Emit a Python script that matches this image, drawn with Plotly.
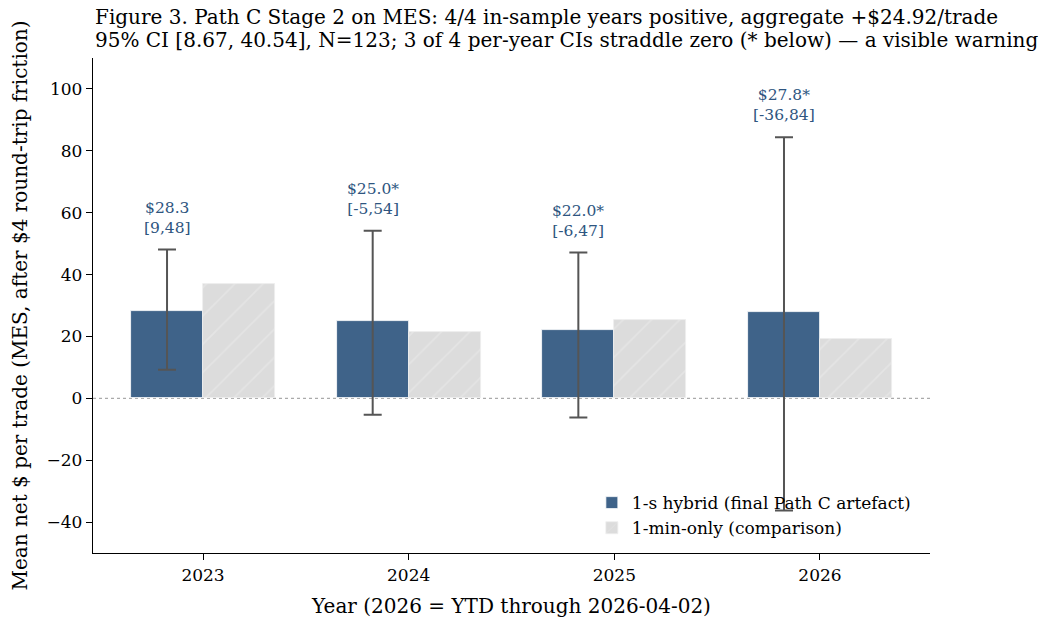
import plotly.graph_objects as go

years = ["2023", "2024", "2025", "2026"]
hybrid_mean = [28.3, 25.0, 22.0, 27.8]
hybrid_ci_lo = [9.2, -5.3, -6.2, -36.3]
hybrid_ci_hi = [48.1, 54.2, 47.1, 84.4]
min_only_mean = [36.8, 21.4, 25.3, 19.2]
title_lines = [
    "Figure 3. Path C Stage 2 on MES: 4/4 in-sample years positive, aggregate +$24.92/trade",
    "95% CI [8.67, 40.54], N=123; 3 of 4 per-year CIs straddle zero (* below) — a visible warning",
]

FONT = "DejaVu Serif"
BLUE = "#3f6389"
LABEL = "#2e5580"

xpos = list(range(len(years)))
w = 0.35
x_h = [x - w / 2 for x in xpos]
x_m = [x + w / 2 for x in xpos]

fig = go.Figure()
fig.add_trace(go.Bar(
    x=x_h, y=hybrid_mean, width=w, name="1-s hybrid (final Path C artefact)",
    marker=dict(color=BLUE, line=dict(color="white", width=0.8)),
    error_y=dict(type="data", symmetric=False,
                 array=[h - m for h, m in zip(hybrid_ci_hi, hybrid_mean)],
                 arrayminus=[m - l for m, l in zip(hybrid_mean, hybrid_ci_lo)],
                 color="#555555", thickness=2, width=9),
))
fig.add_trace(go.Bar(
    x=x_m, y=min_only_mean, width=w, name="1-min-only (comparison)",
    marker=dict(color="#dcdcdc", line=dict(color="#eeeeee", width=0.8),
                pattern=dict(shape="/", fgcolor="#ececec", bgcolor="#dcdcdc",
                             size=20, solidity=0.08)),
))

for x, m, lo, hi in zip(x_h, hybrid_mean, hybrid_ci_lo, hybrid_ci_hi):
    star = "*" if lo < 0 else ""
    fig.add_annotation(
        x=x, y=hi, xref="x", yref="y",
        text=f"${m:.1f}{star}<br>[{lo:.0f},{hi:.0f}]",
        showarrow=False, yanchor="bottom", yshift=11,
        font=dict(family=FONT, size=15.5, color=LABEL),
    )

for line, yp in zip(title_lines, [1.0828, 1.0364]):
    fig.add_annotation(
        x=0, y=yp, xref="paper", yref="paper", text=line, showarrow=False,
        xanchor="left", yanchor="middle", height=22, valign="middle",
        font=dict(family=FONT, size=20, color="black"),
    )

fig.add_shape(type="line", xref="paper", yref="y", x0=0, x1=1, y0=0, y1=0,
              line=dict(color="#aaaaaa", width=1.2, dash="dot"), layer="below")

fig.update_layout(
    width=1050, height=617,
    margin=dict(l=85, r=128, t=50, b=72),
    paper_bgcolor="white", plot_bgcolor="white",
    barmode="overlay", bargap=0,
    font=dict(family=FONT, size=17, color="black"),
    showlegend=True,
    legend=dict(x=0.596, y=0.014, xanchor="left", yanchor="bottom",
                bgcolor="rgba(0,0,0,0)", font=dict(family=FONT, size=17),
                tracegroupgap=2),
    xaxis=dict(
        range=[-0.535, 3.535], tickmode="array", tickvals=xpos, ticktext=years,
        showline=True, linecolor="black", linewidth=1.3, mirror=False, automargin=False,
        ticks="outside", ticklen=6, tickcolor="black", showgrid=False, zeroline=False,
        tickfont=dict(family=FONT, size=17),
        title=dict(text="Year (2026 = YTD through 2026-04-02)",
                   font=dict(family=FONT, size=20)),
    ),
    yaxis=dict(
        range=[-50, 110], tickmode="array", tickvals=[-40, -20, 0, 20, 40, 60, 80, 100],
        ticktext=["−40", "−20", "0", "20", "40", "60", "80", "100"],
        showline=True, linecolor="black", linewidth=1.3, automargin=False,
        ticks="outside", ticklen=6, tickcolor="black", showgrid=False, zeroline=False,
        tickfont=dict(family=FONT, size=17),
        title=dict(text="Mean net $ per trade (MES, after $4 round-trip friction)",
                   font=dict(family=FONT, size=20)),
    ),
)

fig.write_html("out.html")
